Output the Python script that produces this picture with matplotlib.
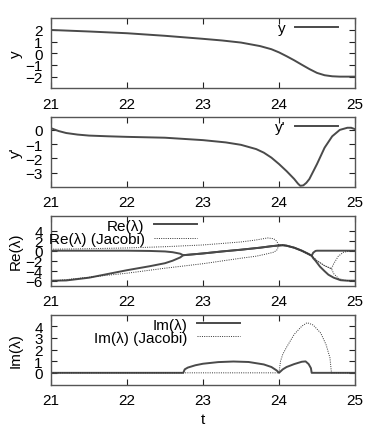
import matplotlib
matplotlib.use('Agg')
import matplotlib.pyplot as plt

plt.rcParams['font.family'] = ['Liberation Sans', 'DejaVu Sans']
plt.rcParams['font.size'] = 11

T_TICKS = [21, 22, 23, 24, 25]

# y(t)
t_y = [21, 21.5, 22, 22.5, 23, 23.25, 23.5, 23.75, 23.9, 24.0, 24.1, 24.2, 24.3,
       24.4, 24.5, 24.6, 24.7, 24.8, 25]
y = [2.0, 1.87, 1.72, 1.5, 1.24, 1.1, 0.92, 0.62, 0.35, 0.08, -0.25, -0.6, -0.98,
     -1.35, -1.68, -1.88, -1.97, -2.0, -2.0]

# y'(t)
t_yp = [21, 21.1, 21.2, 21.35, 21.5, 21.75, 22, 22.5, 23, 23.3, 23.5, 23.7, 23.8,
        23.9, 24.0, 24.1, 24.2, 24.25, 24.28, 24.32, 24.36, 24.4, 24.5, 24.6, 24.7,
        24.8, 24.9, 24.95, 25]
yp = [0.12, -0.08, -0.22, -0.33, -0.4, -0.45, -0.49, -0.55, -0.72, -0.88, -1.05,
      -1.35, -1.6, -1.95, -2.4, -2.9, -3.45, -3.78, -3.93, -3.9, -3.72, -3.45,
      -2.4, -1.25, -0.45, 0.0, 0.15, 0.15, 0.05]

# Re(lambda), two branches
t_re = [21, 21.2, 21.5, 22, 22.3, 22.5, 22.6, 22.7, 22.74, 23, 23.25, 23.5, 23.75,
        23.9, 24.0, 24.05, 24.1, 24.2, 24.3, 24.38, 24.43, 24.45, 24.48, 24.5,
        24.54, 24.6, 24.65, 24.72, 24.81, 24.9, 25]
re_a = [0, 0, 0, 0, -0.05, -0.15, -0.3, -0.6, -0.9, -0.55, -0.15, 0.2, 0.6, 0.9,
        1.05, 1.1, 1.0, 0.6, 0.0, -0.6, -1.0, -0.4, -0.05, 0, 0, 0, 0, 0, 0, 0, 0]
re_b = [-6.0, -5.95, -5.4, -3.9, -3.1, -2.5, -2.0, -1.35, -0.9, -0.55, -0.15, 0.2,
        0.6, 0.9, 1.05, 1.1, 1.0, 0.6, 0.0, -0.6, -1.0, -1.5, -2.0, -2.4, -3.2,
        -4.1, -4.8, -5.4, -5.9, -6.0, -6.0]

# Re(lambda) (Jacobi)
t_rj = [21, 21.5, 22, 22.5, 23, 23.5, 23.7, 23.85, 23.93, 23.97, 24.0, 24.05, 24.1,
        24.2, 24.3, 24.38, 24.43, 24.5, 24.6, 24.69, 24.72, 24.78, 24.85, 24.95, 25]
rj_a = [0.3, 0.4, 0.55, 0.8, 1.15, 1.75, 2.15, 2.55, 2.4, 1.9, 1.05, 1.1, 1.0,
        0.6, 0.0, -0.6, -1.0, -2.0, -3.0, -3.6, -2.6, -1.1, -0.3, -0.05, 0]
rj_b = [-6.1, -5.3, -4.5, -3.5, -2.6, -1.5, -1.1, -0.6, -0.3, 0.1, 1.05, 1.1, 1.0,
        0.6, 0.0, -0.6, -1.0, -2.0, -3.0, -3.6, -4.6, -5.5, -5.9, -6.0, -6.0]

# Im(lambda)
t_im = [21, 22.74, 22.76, 22.8, 22.9, 23.0, 23.2, 23.4, 23.6, 23.8, 23.9, 23.97,
        24.0, 24.05, 24.1, 24.2, 24.3, 24.35, 24.39, 24.42, 24.43, 25]
im = [0, 0, 0.3, 0.45, 0.65, 0.78, 0.92, 0.97, 0.93, 0.72, 0.5, 0.2, 0, 0.3, 0.5,
      0.75, 0.95, 0.98, 0.75, 0.4, 0, 0]
t_imj = [21, 24.0, 24.02, 24.05, 24.1, 24.2, 24.3, 24.37, 24.45, 24.55, 24.62,
         24.67, 24.69, 25]
imj = [0, 0, 1.0, 1.6, 2.2, 3.3, 4.0, 4.3, 4.1, 3.4, 2.4, 1.3, 0, 0]

SOLID = dict(color='#4a4a4a', lw=1.4)
DOTTED = dict(color='#333333', lw=0.7, linestyle=(0, (1, 1.3)))

fig = plt.figure(figsize=(3.82, 4.31), dpi=100)
left, width, height = 51 / 382, 304 / 382, 70 / 431
tops = [19.3, 117.8, 216.7, 315.5]
axes = [fig.add_axes([left, 1 - (tp + 70) / 431, width, height]) for tp in tops]

for ax in axes:
    ax.set_xlim(21, 25)
    ax.set_xticks(T_TICKS)
    ax.tick_params(direction='in', length=4, width=0.8, top=True, right=True,
                   pad=6, color='#222222', labelsize=11)
    for s in ax.spines.values():
        s.set_color('#555555')
        s.set_linewidth(1.0)
    ax.yaxis.set_label_coords(-0.092, 0.5)

def legend(ax, x):
    ax.legend(loc='upper right', bbox_to_anchor=(x, 1.0), frameon=False,
              markerfirst=False, handlelength=2.8, handletextpad=0.6,
              borderpad=0.2, labelspacing=-0.05, borderaxespad=0, fontsize=11)

ax = axes[0]
ax.plot(t_y, y, label='y', **SOLID)
ax.set_ylim(-3, 3)
ax.set_yticks([-2, -1, 0, 1, 2])
ax.set_ylabel('y')
legend(ax, 0.953)

ax = axes[1]
ax.plot(t_yp, yp, label="y'", **SOLID)
ax.set_ylim(-4, 0.92)
ax.set_yticks([-3, -2, -1, 0])
ax.set_ylabel("y'")
legend(ax, 0.953)

ax = axes[2]
ax.plot(t_re, re_a, label='Re(λ)', **SOLID)
ax.plot(t_re, re_b, **SOLID)
ax.plot(t_rj, rj_a, label='Re(λ) (Jacobi)', **DOTTED)
ax.plot(t_rj, rj_b, **DOTTED)
ax.set_ylim(-7, 7)
ax.set_yticks([-6, -4, -2, 0, 2, 4])
ax.set_ylabel('Re(λ)')
legend(ax, 0.489)

ax = axes[3]
ax.plot(t_im, im, label='Im(λ)', **SOLID)
ax.plot(t_imj, imj, label='Im(λ) (Jacobi)', **DOTTED)
ax.set_ylim(-1, 5)
ax.set_yticks([0, 1, 2, 3, 4])
ax.set_ylabel('Im(λ)')
ax.set_xlabel('t', labelpad=4)
legend(ax, 0.631)

fig.savefig('out.png', dpi=100)
